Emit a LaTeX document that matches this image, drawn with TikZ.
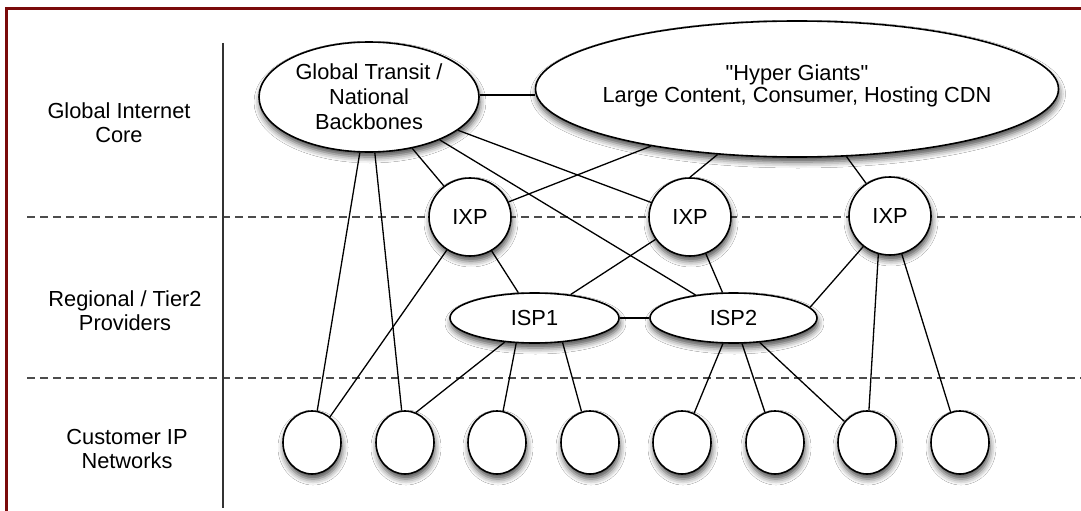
\documentclass[tikz,border=0pt]{standalone}
\usepackage{fontspec}
\setmainfont{Liberation Sans}[Ligatures=TeXOff]
\usetikzlibrary{shapes.geometric,shadows.blur,backgrounds}
\definecolor{framered}{HTML}{7A0A0A}
\begin{document}
\begin{tikzpicture}[x=1pt,y=-1pt,
  every node/.style={text=black},
  txt/.style={font=\fontsize{21.8}{25}\selectfont, align=center, inner sep=0pt},
  nd/.style={ellipse, draw=black, line width=1.6pt, fill=white, inner sep=0pt,
    font=\fontsize{21.8}{25}\selectfont, align=center,
    blur shadow={shadow xshift=1pt, shadow yshift=-5pt, shadow blur radius=6pt, shadow opacity=70}},
  cust/.style={nd, minimum width=58pt, minimum height=63pt},
  ixp/.style={nd, minimum width=82pt, minimum height=78pt},
  isp/.style={nd, minimum width=168pt, minimum height=50pt},
  link/.style={draw=black, line width=1.3pt},
  tier/.style={draw=black!70, line width=1.5pt, dash pattern=on 8pt off 5pt},
  side/.style={txt, font=\fontsize{21.8}{24}\selectfont}
]
\useasboundingbox (0,0) rectangle (1081,511);

% side labels
\node[side] (L1) at (119,123) {Global Internet\\Core};
\node[side] (L2) at (125,311) {Regional / Tier2\\Providers};
\node[side] (L3) at (127,449) {Customer IP\\Networks};

% core
\node[nd, minimum width=220pt, minimum height=110pt] (GT) at (369,97) {Global Transit /\\National\\Backbones};
\node[nd, minimum width=523pt, minimum height=136pt] (HG) at (797,89) {};
\node[txt, font=\fontsize{21.8}{22.5}\selectfont] (HGt) at (797,86) {"Hyper Giants"\\Large Content, Consumer, Hosting CDN};

% IXPs
\node[ixp] (IXP1) at (470,217) {IXP};
\node[ixp] (IXP2) at (690,217) {IXP};
\node[ixp] (IXP3) at (890,216) {IXP};

% ISPs
\node[isp, minimum width=169pt] (ISP1) at (534.5,318) {ISP1};
\node[isp, minimum width=167pt] (ISP2) at (733.5,318) {ISP2};

% customers
\foreach \i/\x in {1/312,2/405,3/497,4/590,5/682,6/775,7/867,8/960}
  \node[cust] (C\i) at (\x,442.5) {};

% separators
\coordinate (d1a) at (27,217);  \coordinate (d1b) at (1081,217);
\coordinate (d2a) at (27,378);  \coordinate (d2b) at (1081,378);
\coordinate (va) at (223,43);   \coordinate (vb) at (223,508);
\coordinate (fa) at (6.3,515);  \coordinate (fb) at (6.3,8.7); \coordinate (fc) at (1085,8.7);

\begin{scope}[on background layer]
  \fill[white] (0,0) rectangle (1081,511);
  \draw[tier] (d1a) -- (d1b);
  \draw[tier] (d2a) -- (d2b);
  \draw[link] (GT.1.5) -- (GT.1.5 -| HG.west);
  \draw[link] (GT) -- (C1);
  \draw[link] (GT) -- (C2);
  \draw[link] (GT) -- (IXP1);
  \draw[link] (GT) -- (IXP2);
  \draw[link] (GT) -- (ISP2);
  \draw[link] (HG) -- (IXP1);
  \draw[link] (HG) -- (IXP2.north);
  \draw[link] (HG) -- (IXP3);
  \draw[link] (IXP1) -- (C1);
  \draw[link] (IXP1) -- (ISP1);
  \draw[link] (IXP2) -- (ISP1);
  \draw[link] (IXP2) -- (ISP2);
  \draw[link] (IXP3) -- (ISP2.8);
  \draw[link] (IXP3.253) -- (C7);
  \draw[link] (IXP3) -- (C8);
  \draw[link] (ISP1) -- (ISP2);
  \draw[link] (ISP1.219) -- (C2.70);
  \draw[link] (ISP1.234) -- (C3);
  \draw[link] (ISP1.319) -- (C4);
  \draw[link] (ISP2) -- (C5);
  \draw[link] (ISP2) -- (C6);
  \draw[link] (ISP2) -- (C7);
\end{scope}

\draw[black!80, line width=1.5pt] (va) -- (vb);
\draw[framered, line width=2.5pt] (fa) -- (fb) -- (fc);
\end{tikzpicture}
\end{document}
